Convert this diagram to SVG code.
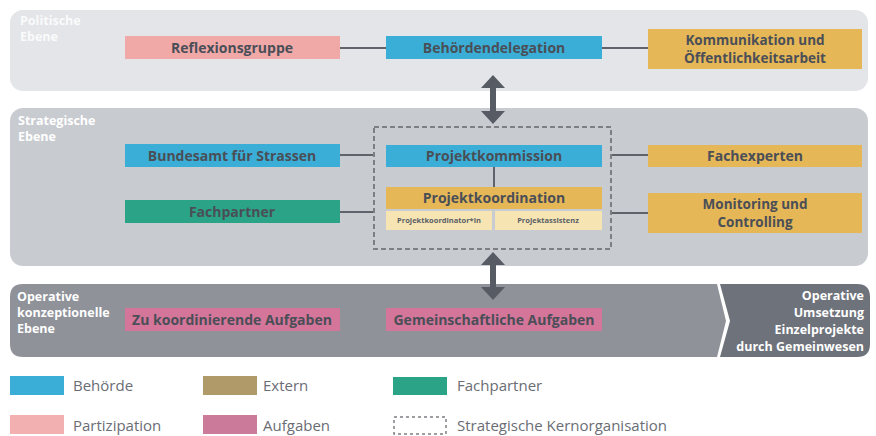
<svg xmlns="http://www.w3.org/2000/svg" width="876" height="436" viewBox="0 0 876 436">
<defs>
<style>
.lvl{font-family:"Open Sans","Noto Sans",sans-serif;font-weight:bold;font-size:12.5px;fill:#ffffff}
.lbl{font-family:"Open Sans","Noto Sans",sans-serif;font-weight:bold;font-size:14px;fill:#4a4e57;text-anchor:middle}
.lbl2{font-family:"Open Sans","Noto Sans",sans-serif;font-weight:bold;font-size:13.5px;fill:#4a4e57;text-anchor:middle}
.sm{font-family:"Open Sans","Noto Sans",sans-serif;font-weight:bold;font-size:7.5px;fill:#5a5e66;text-anchor:middle}
.leg{font-family:"Open Sans","Noto Sans",sans-serif;font-size:15px;fill:#6a6d75}
.blue{fill:#3aaed6}
.pink{fill:#f1a9a8}
.gold{fill:#e5b757}
.teal{fill:#2aa386}
.mag{fill:#d4769a}
.light{fill:#f6e5b3}
.con{stroke:#5f636b;stroke-width:2;fill:none}
.arrow{fill:#575c64}
.dash{fill:none;stroke:#7d7f84;stroke-width:2;stroke-dasharray:5,3}
</style>
</defs>
<g id="panels">
<rect x="10" y="10" width="858" height="81" rx="13" fill="#e3e5e9"/>
<rect x="10" y="108" width="858" height="158" rx="13" fill="#c8cbd0"/>
<path d="M23 284 H717 L726 321 L717 357 H23 Q10 357 10 344 V297 Q10 284 23 284 Z" fill="#8f9299"/>
<path d="M720 284 H857 Q870 284 870 297 V344 Q870 357 857 357 H720 L730 321 Z" fill="#6e727a"/>
<text class="lvl" x="20" y="25" fill-opacity="0.85">Politische</text>
<text class="lvl" x="20" y="41" fill-opacity="0.85">Ebene</text>
<text class="lvl" x="18" y="125">Strategische</text>
<text class="lvl" x="18" y="141">Ebene</text>
<text class="lvl" x="17" y="301">Operative</text>
<text class="lvl" x="17" y="317">konzeptionelle</text>
<text class="lvl" x="17" y="333">Ebene</text>
<text class="lvl" x="864" y="300" text-anchor="end">Operative</text>
<text class="lvl" x="864" y="317" text-anchor="end">Umsetzung</text>
<text class="lvl" x="864" y="334" text-anchor="end">Einzelprojekte</text>
<text class="lvl" x="864" y="351" text-anchor="end">durch Gemeinwesen</text>
</g>
<g id="connectors">
<line class="con" x1="340" y1="48" x2="386" y2="48"/>
<line class="con" x1="602" y1="48" x2="648" y2="48"/>
<line class="con" x1="340" y1="155" x2="374" y2="155"/>
<line class="con" x1="340" y1="212" x2="374" y2="212"/>
<line class="con" x1="611" y1="155" x2="648" y2="155"/>
<line class="con" x1="611" y1="213" x2="648" y2="213"/>
<line class="con" x1="494" y1="166" x2="494" y2="187"/>
<path class="arrow" d="M493 75 L505 88 H496 V111 H505 L493 124 L481 111 H490 V88 H481 Z"/>
<path class="arrow" d="M493 252 L505 265 H496 V287 H505 L493 300 L481 287 H490 V265 H481 Z"/>
</g>
<g id="kernorganisation">
<rect class="dash" x="374" y="127" width="237" height="122"/>
</g>
<g id="reflexionsgruppe">
<rect class="pink" x="125" y="36" width="215" height="23"/>
<text class="lbl" x="232" y="52.5">Reflexionsgruppe</text>
</g>
<g id="behoerdendelegation">
<rect class="blue" x="386" y="36" width="216" height="23"/>
<text class="lbl" x="494" y="52.5">Behördendelegation</text>
</g>
<g id="kommunikation">
<rect class="gold" x="648" y="29" width="214" height="40"/>
<text class="lbl2" x="755" y="45">Kommunikation und</text>
<text class="lbl2" x="755" y="63">Öffentlichkeitsarbeit</text>
</g>
<g id="bundesamt">
<rect class="blue" x="125" y="144" width="215" height="23"/>
<text class="lbl" x="232" y="160.5">Bundesamt für Strassen</text>
</g>
<g id="fachpartner">
<rect class="teal" x="125" y="200" width="215" height="23"/>
<text class="lbl" x="232" y="216.5">Fachpartner</text>
</g>
<g id="projektkommission">
<rect class="blue" x="386" y="145" width="216" height="22"/>
<text class="lbl" x="494" y="161">Projektkommission</text>
</g>
<g id="projektkoordination">
<rect class="gold" x="386" y="187" width="216" height="22"/>
<text class="lbl" x="494" y="203">Projektkoordination</text>
</g>
<g id="projektkoordinatorin">
<rect class="light" x="386" y="211" width="106" height="19"/>
<text class="sm" x="439" y="223">Projektkoordinator*in</text>
</g>
<g id="projektassistenz">
<rect class="light" x="495" y="211" width="107" height="19"/>
<text class="sm" x="548" y="223">Projektassistenz</text>
</g>
<g id="fachexperten">
<rect class="gold" x="648" y="145" width="214" height="22"/>
<text class="lbl" x="755" y="161">Fachexperten</text>
</g>
<g id="monitoring">
<rect class="gold" x="648" y="193" width="214" height="40"/>
<text class="lbl2" x="755" y="208.5">Monitoring und</text>
<text class="lbl2" x="755" y="226.5">Controlling</text>
</g>
<g id="zu-koordinierende">
<rect class="mag" x="125" y="308" width="215" height="23"/>
<text class="lbl" x="232" y="324.5">Zu koordinierende Aufgaben</text>
</g>
<g id="gemeinschaftliche">
<rect class="mag" x="386" y="308" width="216" height="23"/>
<text class="lbl" x="494" y="324.5">Gemeinschaftliche Aufgaben</text>
</g>
<g id="legend">
<rect class="blue" x="10" y="376" width="54" height="19"/>
<text class="leg" x="73" y="391">Behörde</text>
<rect x="203" y="376" width="54" height="19" fill="#b09a69"/>
<text class="leg" x="263" y="391">Extern</text>
<rect class="teal" x="393" y="377" width="54" height="18"/>
<text class="leg" x="457" y="391">Fachpartner</text>
<rect x="10" y="415" width="54" height="19" fill="#f2b1b0"/>
<text class="leg" x="73" y="431">Partizipation</text>
<rect x="203" y="415" width="54" height="19" fill="#cb7b99"/>
<text class="leg" x="263" y="431">Aufgaben</text>
<rect x="394" y="417" width="52" height="17" fill="none" stroke="#7d7f84" stroke-width="1.5" stroke-dasharray="3,3"/>
<text class="leg" x="457" y="431">Strategische Kernorganisation</text>
</g>
</svg>
